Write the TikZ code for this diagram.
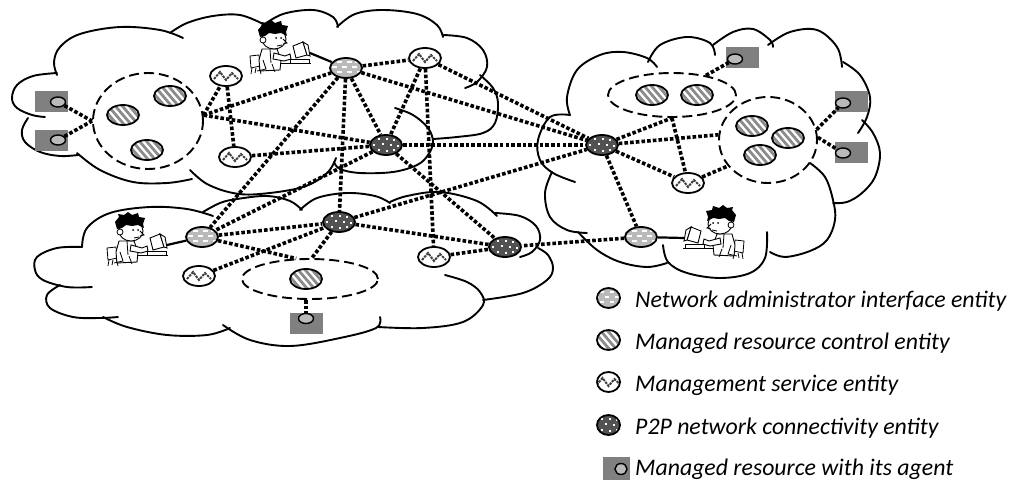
\documentclass[tikz,border=0pt]{standalone}
\usepackage{fontspec}
\setmainfont{Carlito}
\usetikzlibrary{shapes.geometric,calc}

\tikzset{
  cloudline/.style={line width=1.9pt, line cap=round, line join=round},
  link/.style={line width=3.6pt, dash pattern=on 3.6pt off 2.1pt},
  wire/.style={line width=2.2pt},
  grp/.style={draw, ellipse, line width=1.9pt, dash pattern=on 10pt off 5pt, inner sep=0pt},
  ent/.style={ellipse, draw, line width=1.8pt, minimum width=32pt, minimum height=20pt, inner sep=0pt},
  small/.style={minimum width=23pt, minimum height=20pt},
  admin/.style={ent, fill=black!27, path picture={
      \foreach \dx/\dy in {-9/-5, 1/-5, -14/0, -4/0, 6/0, -9/5, 1/5, 9/-5, 11/5}
        \fill[white] ([shift={(\dx,\dy)}]path picture bounding box.center) rectangle ++(4.5,-1.8);}},
  ctrl/.style={ent, fill=white, path picture={
      \foreach \k in {-6,...,6}
        \draw[black!45, line width=2.8pt] ([shift={(\k*7-12,-14)}]path picture bounding box.center) -- ++(24,28);}},
  svc/.style={ent, fill=white, path picture={
      \draw[black!75, line width=2pt, dash pattern=on 2.5pt off 1pt]
        ([shift={(-12,3)}]path picture bounding box.center) -- ++(6,-7) -- ++(6,8) -- ++(6,-7) -- ++(6,6);}},
  p2p/.style={ent, fill=black!68, path picture={
      \foreach \dx/\dy in {-7/-6, 1/-6, 8/-5, -12/0, -3/-1, 5/0, 12/1, -7/5, 1/6, 8/5}
        \fill[white] ([shift={(\dx-1,\dy-1)}]path picture bounding box.center) rectangle ++(2.3,2.3);}},
  res/.style={fill=black!50, minimum width=33pt, minimum height=21pt, inner sep=0pt},
  agent/.style={ellipse, draw, fill=black!27, line width=1.4pt, minimum width=15pt, minimum height=10pt, inner sep=0pt},
  legtext/.style={anchor=base west, inner sep=0pt, font=\fontsize{23.8}{28}\selectfont\itshape},
  operator/.pic={
    % chair
    \draw[line width=0.8pt, fill=white] (-22,18) -- (-13,17) -- (-12,28) -- (-21,30) -- cycle;
    \draw[line width=0.8pt] (-20,30) -- (-21,36) (-13,28) -- (-11,36) (-16,30) -- (-17,35);
    % body and legs
    \draw[line width=0.9pt, fill=white] (-10,11) -- (5,11) -- (9,22) -- (8,32) -- (-12,33) -- (-13,22) -- cycle;
    \draw[line width=0.8pt] (-2,11) -- (-1,25) (-9,22) -- (-6,31) -- (-15,33) (0,26) -- (3,34);
    % arm reaching the keyboard
    \draw[line width=0.9pt, fill=white] (2,15) -- (13,18) -- (18,16) -- (19,21) -- (12,23) -- (1,21) -- cycle;
    % desk
    \draw[line width=0.8pt] (8,25.5) -- (39,25.5);
    % monitor
    \draw[line width=0.9pt, fill=white] (21,8) -- (31,4) -- (35,17) -- (24,20) -- cycle;
    \draw[line width=0.9pt, fill=white] (31,4) -- (36,7) -- (38,18) -- (35,17) -- cycle;
    % keyboard
    \draw[line width=0.9pt, fill=white] (18,21) rectangle (37,25);
    % face
    \draw[line width=0.9pt, fill=white] (2,1) ellipse [x radius=12pt, y radius=10pt];
    \draw[line width=0.8pt, fill=white] (-9,2) circle [radius=3pt];
    % hair
    \fill[black] (-12,-1) -- (-14,-8) -- (-10,-13) -- (-11,-16) -- (-5,-15) -- (-1,-18) -- (3,-15)
      -- (9,-17) -- (10,-13) -- (16,-12) -- (14,-6) -- (15,-2) -- (9,-5) -- (3,-4) -- (-3,-5) -- (-7,-2) -- cycle;
    % eyes, nose, mouth
    \fill (4,0) circle [radius=1pt] (9,0) circle [radius=1pt];
    \draw[line width=0.8pt] (11,1) -- (15,5) -- (11,6);
    \draw[line width=0.8pt] (5,8) -- (10,7);
    \coordinate (-scr) at (38,15);
  }
}

\begin{document}
\begin{tikzpicture}[x=1pt, y=-1pt]
\useasboundingbox (0,0) rectangle (1014,481);

% ---------------- clouds ----------------
% upper left cloud
\draw[cloudline] plot[smooth, tension=0.6] coordinates {(183,38) (160,30) (120,27) (80,34) (60,47) (54,62) (57,75)};
\draw[cloudline] plot[smooth, tension=0.6] coordinates {(57,73) (33,76) (17,85) (12,98) (17,108) (32,115) (45,117)};
\draw[cloudline] plot[smooth, tension=0.6] coordinates {(28,118) (22,130) (25,142) (40,152) (60,156) (78,155)};
\draw[cloudline] plot[smooth, tension=0.6] coordinates {(77,153) (100,170) (133,182) (167,183) (192,179)};
\draw[cloudline] plot[smooth, tension=0.6] coordinates {(190,170) (207,184) (233,193) (260,194) (303,187) (327,173) (336,158)};
\draw[cloudline] plot[smooth, tension=0.6] coordinates {(170,33) (187,23) (213,16) (240,15) (263,24)};
\draw[cloudline] plot[smooth, tension=0.6] coordinates {(262,26) (283,14) (313,10) (333,17) (338,27)};
\draw[cloudline] plot[smooth, tension=0.6] coordinates {(337,27) (355,14) (383,10) (417,14) (437,25) (443,37)};
\draw[cloudline] plot[smooth, tension=0.6] coordinates {(443,35) (467,38) (483,50) (487,67) (477,82) (465,88)};
\draw[cloudline] plot[smooth, tension=0.6] coordinates {(480,75) (493,88) (498,103) (495,123) (483,133) (457,137) (433,139)};
\draw[cloudline] plot[smooth, tension=0.6] coordinates {(395,108) (413,115) (428,128) (433,142) (428,155) (417,165) (393,172) (360,173) (340,169) (334,162)};

% lower left cloud
\draw[cloudline] plot[smooth, tension=0.6] coordinates {(82,247) (87,228) (110,213) (150,207) (187,209) (213,216)};
\draw[cloudline] plot[smooth, tension=0.6] coordinates {(203,212) (220,203) (237,199) (267,196) (290,201) (302,210)};
\draw[cloudline] plot[smooth, tension=0.6] coordinates {(300,210) (317,198) (347,193) (375,196) (390,203)};
\draw[cloudline] plot[smooth, tension=0.6] coordinates {(390,202) (407,196) (440,192) (477,201) (497,216)};
\draw[cloudline] plot[smooth, tension=0.6] coordinates {(495,213) (520,216) (536,226) (540,240) (532,252) (520,257)};
\draw[cloudline] plot[smooth, tension=0.6] coordinates {(483,300) (523,293) (547,280) (553,268) (548,255) (538,248)};
\draw[cloudline] plot[smooth, tension=0.6] coordinates {(445,275) (467,282) (480,292) (483,305) (463,322) (423,328) (378,327)};
\draw[cloudline] plot[smooth, tension=0.6] coordinates {(380,317) (376,328) (340,338) (290,346) (250,340) (223,325)};
\draw[cloudline] plot[smooth, tension=0.6] coordinates {(230,328) (207,335) (167,335) (127,327) (103,317)};
\draw[cloudline] plot[smooth, tension=0.6] coordinates {(118,317) (100,318) (73,317) (50,308) (47,295) (60,285)};
\draw[cloudline] plot[smooth, tension=0.6] coordinates {(92,287) (67,287) (43,280) (35,270) (37,257) (57,248) (82,247)};

% right cloud
\draw[cloudline] plot[smooth, tension=0.6] coordinates {(570,115) (567,97) (577,70) (600,55) (623,52) (647,58) (657,67)};
\draw[cloudline] plot[smooth, tension=0.6] coordinates {(648,62) (660,45) (687,37) (710,43) (715,55)};
\draw[cloudline] plot[smooth, tension=0.6] coordinates {(713,45) (733,32) (753,29) (770,40) (773,47)};
\draw[cloudline] plot[smooth, tension=0.6] coordinates {(768,45) (790,32) (817,30) (837,47) (842,67)};
\draw[cloudline] plot[smooth, tension=0.6] coordinates {(843,62) (860,75) (870,97) (867,117) (858,133)};
\draw[cloudline] plot[smooth, tension=0.6] coordinates {(862,120) (873,133) (880,153) (875,177) (862,193) (847,202) (833,203)};
\draw[cloudline] plot[smooth, tension=0.6] coordinates {(810,163) (825,177) (833,200) (835,220) (827,240) (810,251) (785,257) (770,252)};
\draw[cloudline] plot[smooth, tension=0.6] coordinates {(663,245) (668,262) (687,273) (720,278) (750,273) (765,258) (767,232)};
\draw[cloudline] plot[smooth, tension=0.6] coordinates {(578,232) (597,250) (620,262) (647,267) (667,263)};
\draw[cloudline] plot[smooth, tension=0.6] coordinates {(552,172) (545,193) (550,217) (567,230) (587,233)};
\draw[cloudline] plot[smooth, tension=0.6] coordinates {(570,115) (550,117) (538,140) (540,160) (553,173) (575,182)};

% ---------------- resource groups ----------------
\node[grp, minimum width=110pt, minimum height=96pt] (G1) at (148,121) {};
\node[grp, minimum width=128pt, minimum height=44pt] (G2) at (672,95) {};
\node[grp, minimum width=98pt, minimum height=86pt] (G3) at (768,140) {};
\node[grp, minimum width=136pt, minimum height=40pt] (G4) at (310,279) {};

\node[ctrl] (r1) at (170,96) {};
\node[ctrl] (r2) at (123,115) {};
\node[ctrl] (r3) at (147,150) {};
\node[ctrl] (r4) at (652,95) {};
\node[ctrl] (r5) at (697,95) {};
\node[ctrl] (r6) at (752,126) {};
\node[ctrl] (r7) at (788,138) {};
\node[ctrl] (r8) at (760,155) {};
\node[ctrl] (r9) at (306,279) {};

% ---------------- managed resources with agents ----------------
\node[res] (bA1) at (51,101.5) {};
\node[agent] (a1) at (58,102) {};
\node[res] (bA2) at (51,140.5) {};
\node[agent] (a2) at (58,140) {};
\node[res] (bE1) at (742.5,57.5) {};
\node[agent] (e1) at (735,59) {};
\node[res] (bE2) at (851,101.5) {};
\node[agent] (e2) at (843,103) {};
\node[res] (bE3) at (851,152.5) {};
\node[agent] (e3) at (843,153) {};
\node[res] (bD) at (306.5,323.5) {};
\node[agent] (d) at (306,318.5) {};

% ---------------- entities ----------------
\node[admin] (adm1) at (346,68) {};
\node[admin] (adm2) at (641,237) {};
\node[admin] (adm3) at (202,237) {};
\node[svc] (s1) at (226,76) {};
\node[svc] (s2) at (235,157) {};
\node[svc] (s3) at (425,58) {};
\node[svc] (s4) at (688,183) {};
\node[svc] (s5) at (199,276) {};
\node[svc] (s6) at (434,257) {};
\node[p2p] (p1) at (386,145) {};
\node[p2p] (p2) at (602,145) {};
\node[p2p] (p3) at (339,222) {};
\node[p2p] (p4) at (505,247) {};

% ---------------- network administrators ----------------
\pic (op1) at (272,38) {operator};
\pic (op2) at (129,230) {operator};
\pic[xscale=-1] (op3) at (722,223) {operator};
\draw[wire] (op1-scr) -- (adm1);
\draw[wire] (op2-scr) -- (adm3);
\draw[wire] (op3-scr) -- (adm2);

% ---------------- P2P links ----------------
\coordinate (g1e) at (G1.6);
\draw[link] (a1) -- (G1.west);
\draw[link] (a2) -- (G1.west);
\draw[link] (g1e) -- (s1);
\draw[link] (g1e) -- (adm1);
\draw[link] (g1e) -- (p1);
\draw[link] (s1) -- (s2);
\draw[link] (s2) -- (p1);
\draw[link] (adm1) -- (s3);
\draw[link] (adm1) -- (p1);
\draw[link] (adm1) -- (p3);
\draw[link] (adm1) -- (adm3);
\draw[link] (adm1) -- (p2);
\draw[link] (s3) -- (p1);
\draw[link] (s3) -- (p2);
\draw[link] (s3) -- (s6);
\draw[link] (p1) -- (p2);
\draw[link] (p1) -- (adm3);
\draw[link] (p1) -- (p4);
\draw[link] (p3) -- (p2);
\draw[link] (p2) -- (G2.south);
\draw[link] (G2.south) -- (s4);
\draw[link] (p2) -- (G3.174);
\draw[link] (p2) -- (s4);
\draw[link] (p2) -- (adm2);
\draw[link] (s4) -- (G3.213);
\draw[link] (G2.30) -- (e1);
\draw[link] (G3.12) -- (e2);
\draw[link] (G3.3) -- (e3);
\draw[link] (adm2) -- (p4);
\draw[link] (adm3) -- (p3);
\draw[link] (adm3) -- (G4.124);
\draw[link] (s5) -- (p3);
\draw[link] (p3) -- (G4.85);
\draw[link] (p3) -- (p4);
\draw[link] (s6) -- (p4);
\draw[link] (G4.south -| d) -- (d);

% ---------------- legend ----------------
\node[admin, small] (L1) at (608.5,298) {};
\node[ctrl, small] (L2) at (608.5,340) {};
\node[svc, small] (L3) at (608.5,382) {};
\node[p2p, small] (L4) at (608.5,425) {};
\node[res, minimum width=27pt, minimum height=23pt] (L5) at (616.5,468) {};
\node[agent, minimum width=12pt, minimum height=11pt] (L5a) at (621,469) {};
\node[legtext] (T1) at (635,307) {Network administrator interface entity};
\node[legtext] (T2) at (635,349) {Managed resource control entity};
\node[legtext] (T3) at (635,391) {Management service entity};
\node[legtext] (T4) at (635,434) {P2P network connectivity entity};
\node[legtext] (T5) at (635,475) {Managed resource with its agent};
\end{tikzpicture}
\end{document}
